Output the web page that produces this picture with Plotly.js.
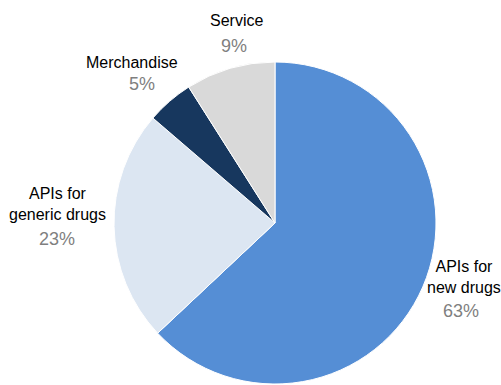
<!DOCTYPE html>
<html><head><meta charset="utf-8">
<script src="https://cdn.plot.ly/plotly-3.0.1.min.js"></script>
<style>html,body{margin:0;padding:0;background:#fff;}#chart{width:501px;height:385px;}</style>
</head><body><div id="chart"></div>
<script>
const categories = ["APIs for new drugs", "APIs for generic drugs", "Merchandise", "Service"];
const nameLabels = ["APIs for<br>new drugs", "APIs for<br>generic drugs", "Merchandise", "Service"];
const shares = [63, 23.3, 4.7, 9];
const pctLabels = ["63%", "23%", "5%", "9%"];
const colors = ["#558ED5", "#DCE6F2", "#17375E", "#D9D9D9"];

const W = 501, H = 385;
const cx = 275, cy = 223, R = 161;
// label positions (pixels): [name center x, name center y, pct center x, pct center y]
const labelPos = [
  [464, 276.5, 461, 311],
  [57, 203.5, 57, 239],
  [132, 62, 142, 84],
  [236, 20, 234, 46]
];
const px = x => x / W, py = y => 1 - y / H;

const annotations = [];
categories.forEach((c, i) => {
  const p = labelPos[i];
  annotations.push({xref:'paper', yref:'paper', x:px(p[0]), y:py(p[1]), xanchor:'center', yanchor:'middle',
    text:nameLabels[i], showarrow:false, align:'center',
    font:{family:'"Liberation Sans Narrow","Arial Narrow","Liberation Sans",Arial,sans-serif', size:16, color:'#000'}});
  annotations.push({xref:'paper', yref:'paper', x:px(p[2]), y:py(p[3]), xanchor:'center', yanchor:'middle',
    text:pctLabels[i], showarrow:false,
    font:{family:'"Liberation Sans",Arial,sans-serif', size:18, color:'#7F7F7F'}});
});

Plotly.newPlot('chart', [{
  type:'pie', labels:categories, values:shares, sort:false, direction:'clockwise', rotation:0,
  marker:{colors:colors, line:{color:'#fff', width:1}},
  textinfo:'none', hoverinfo:'label+percent',
  domain:{x:[px(cx-R), px(cx+R)], y:[py(cy+R), py(cy-R)]}
}], {
  width:W, height:H, margin:{l:0,r:0,t:0,b:0}, showlegend:false,
  paper_bgcolor:'#fff', annotations:annotations
}, {displayModeBar:false, staticPlot:true});
</script></body></html>
